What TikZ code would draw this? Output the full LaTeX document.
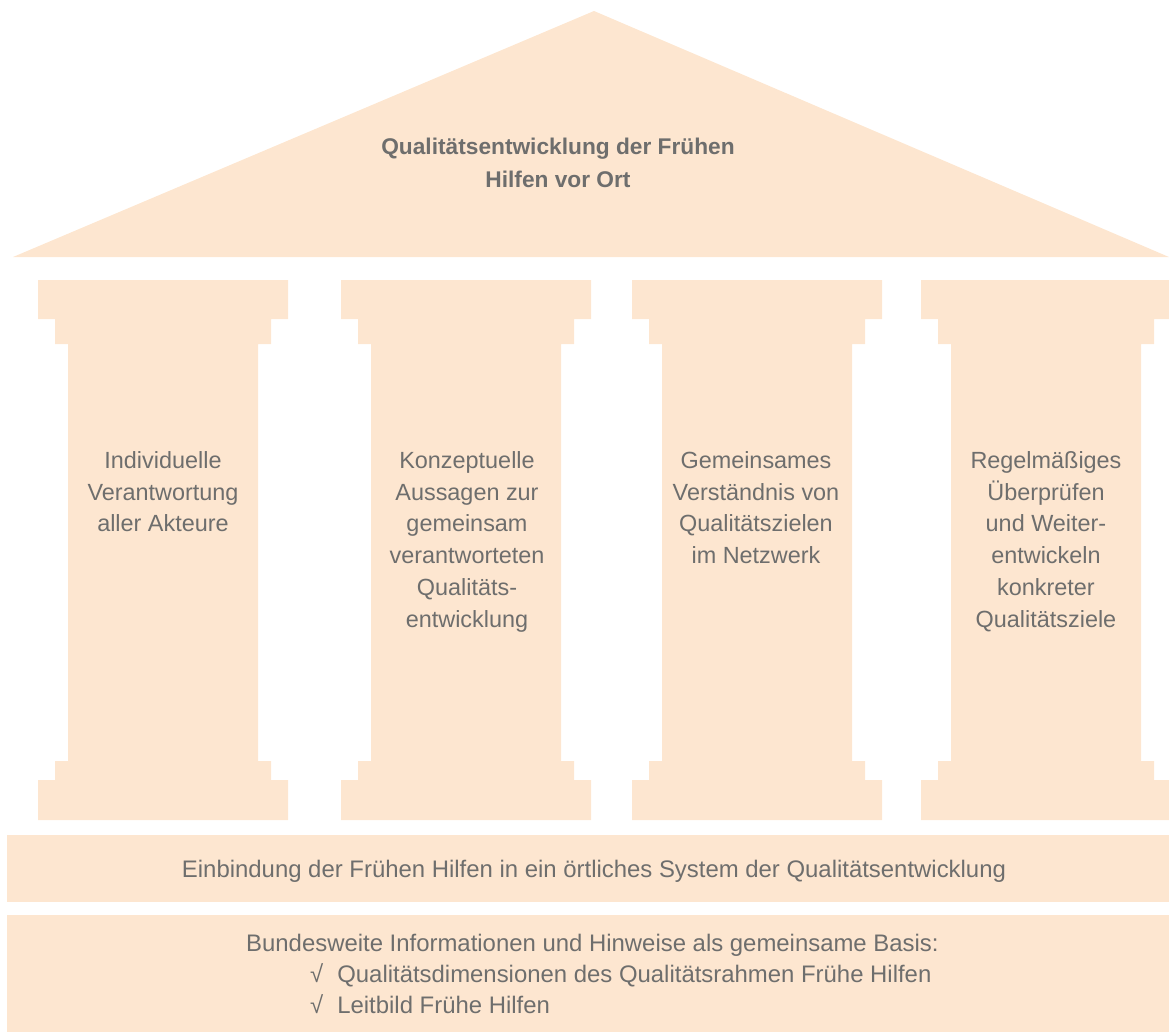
\documentclass[tikz,border=0pt]{standalone}
\usepackage{fontspec}
\setmainfont{Liberation Sans}
\definecolor{peach}{HTML}{FDE6D0}
\definecolor{txtgrey}{HTML}{6E6E6D}
\begin{document}
\begin{tikzpicture}[x=1bp,y=-1bp,
  pillartext/.style={anchor=north,align=center,inner sep=0pt,text=txtgrey,
    font=\fontsize{23.5}{32}\selectfont},
  bandtext/.style={anchor=base,inner sep=0pt,text=txtgrey,font=\fontsize{24}{30}\selectfont},
  rooftext/.style={anchor=north,align=center,inner sep=0pt,text=txtgrey,
    font=\bfseries\fontsize{22.8}{33}\selectfont}]
\useasboundingbox (0,0) rectangle (1169,1032);

% roof
\fill[peach] (13,257) -- (594,11) -- (1169,257) -- cycle;
\node[rooftext] (roof) at (558,138) {Qualitätsentwicklung der Frühen\\Hilfen vor Ort};

% pillars: capital, neck, shaft, neck, base
\foreach \L/\n in {38/1,341/2,632/3,921/4}{
  \fill[peach] (\L,280) -- ++(250,0) -- ++(0,39) -- ++(-17,0) -- ++(0,25)
    -- ++(-13,0) -- (\L+220,761) -- ++(13,0) -- ++(0,19) -- ++(17,0)
    -- ++(0,40) -- ++(-250,0) -- ++(0,-40) -- ++(17,0) -- ++(0,-19)
    -- ++(13,0) -- (\L+30,344) -- ++(-13,0) -- ++(0,-25) -- ++(-17,0) -- cycle;
}
\node[pillartext] (p1) at (163,451) {Individuelle\\Verantwortung\\aller Akteure};
\node[pillartext] (p2) at (467,451) {Konzeptuelle\\Aussagen zur\\gemeinsam\\verantworteten\\Qualitäts-\\entwicklung};
\node[pillartext] (p3) at (756,451) {Gemeinsames\\Verständnis von\\Qualitätszielen\\im Netzwerk};
\node[pillartext] (p4) at (1046,451) {Regelmäßiges\\Überprüfen\\und Weiter-\\entwickeln\\konkreter\\Qualitätsziele};

% foundation bands
\fill[peach] (7,835) rectangle (1169,902);
\node[bandtext] (b1) at (594,877) {Einbindung der Frühen Hilfen in ein örtliches System der Qualitätsentwicklung};

\fill[peach] (7,915) rectangle (1169,1032);
\node[bandtext,anchor=base west] (b2) at (246,951) {Bundesweite Informationen und Hinweise als gemeinsame Basis:};
\node[bandtext,anchor=base west] (b3) at (310,982) {√\hspace{14bp}Qualitätsdimensionen des Qualitätsrahmen Frühe Hilfen};
\node[bandtext,anchor=base west] (b4) at (310,1013) {√\hspace{14bp}Leitbild Frühe Hilfen};
\end{tikzpicture}
\end{document}
